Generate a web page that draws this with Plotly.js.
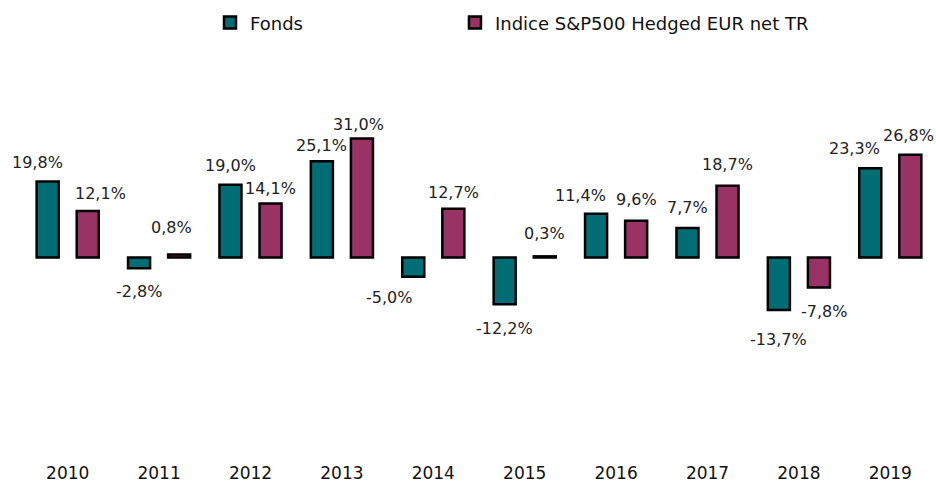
<!DOCTYPE html>
<html>
<head>
<meta charset="utf-8">
<script src="https://cdn.plot.ly/plotly-3.0.1.min.js"></script>
<style>
html,body{margin:0;padding:0;background:#fff;}
#chart{width:936px;height:483px;}
</style>
</head>
<body>
<div id="chart"></div>
<script>
var years = ["2010","2011","2012","2013","2014","2015","2016","2017","2018","2019"];
var fondsName = "Fonds";
var indiceName = "Indice S&P500 Hedged EUR net TR";
var fondsValues = [19.8, -2.8, 19.0, 25.1, -5.0, -12.2, 11.4, 7.7, -13.7, 23.3];
var indiceValues = [12.1, 0.8, 14.1, 31.0, 12.7, 0.3, 9.6, 18.7, -7.8, 26.8];

// label nudges (pixels) relative to bar end, as placed in the reference
var fondsLabelDx = [-10, 0, 0, 0, -24, 0, -16, 0, 0, -16];
var fondsLabelDy = [19, -23, 19, 16, -21, -24, 18, 20, -29, 20];
var indiceLabelDx = [13, -8, 0, -3, 0, 0, 0, 0, 5, -2];
var indiceLabelDy = [18, 27, 15, 14, 16, 23, 21, 21, -24, 19];

var tealColor = "#006C73";
var maroonColor = "#993366";
var fontFam = "DejaVu Sans, Verdana, sans-serif";
var labelFont = {family: fontFam, size: 16, color: "#222"};

function fmt(v){ return v.toFixed(1).replace(".", ",") + "%"; }

var traces = [
  {type: "bar", name: fondsName, x: years, y: fondsValues, legend: "legend",
   marker: {color: tealColor, line: {color: "#000", width: 2.5}}, hoverinfo: "skip"},
  {type: "bar", name: indiceName, x: years, y: indiceValues, legend: "legend2",
   marker: {color: maroonColor, line: {color: "#000", width: 2.5}}, hoverinfo: "skip"}
];

var annotations = [];
[[fondsValues, fondsLabelDx, fondsLabelDy, -20], [indiceValues, indiceLabelDx, indiceLabelDy, 20]].forEach(function(s){
  s[0].forEach(function(v, i){
    annotations.push({
      x: i, y: v, xref: "x", yref: "y",
      text: fmt(v), showarrow: false,
      xshift: s[3] + s[1][i],
      yshift: s[2][i],
      font: labelFont
    });
  });
});

var boundaries = [];
for (var k = 0; k <= years.length; k++) boundaries.push(k - 0.5);

var legendFont = {family: fontFam, size: 18, color: "#111"};

var layout = {
  width: 936, height: 483,
  margin: {l: 22, r: 0, t: 60, b: 28},
  paper_bgcolor: "#fff", plot_bgcolor: "#fff",
  barmode: "group", bargap: 0.123, bargroupgap: 0.45,
  showlegend: true,
  legend: {orientation: "h", x: 0.2057, xanchor: "left", y: 1.094, yanchor: "middle",
           font: legendFont, bgcolor: "rgba(0,0,0,0)"},
  legend2: {orientation: "h", x: 0.4737, xanchor: "left", y: 1.094, yanchor: "middle",
           font: legendFont, bgcolor: "rgba(0,0,0,0)"},
  xaxis: {type: "category", range: [-0.5, years.length - 0.5], autorange: false,
          showline: false, ticks: "", showgrid: false, zeroline: false,
          tickfont: {family: fontFam, size: 17, color: "#111"},
          ticklabelstandoff: 6},
  xaxis2: {overlaying: "x", anchor: "free", position: 0.5, type: "linear",
           range: [-0.5, years.length - 0.5], autorange: false,
           tickmode: "array", tickvals: boundaries,
           ticks: "outside", ticklen: 5, tickcolor: "#888", tickwidth: 1,
           showline: true, linecolor: "#000", linewidth: 1,
           showticklabels: false, showgrid: false, zeroline: false},
  yaxis: {range: [-51.5, 51.5], autorange: false, showticklabels: false, showgrid: false,
          zeroline: false, showline: false, ticks: ""},
  annotations: annotations
};

Plotly.newPlot("chart", traces, layout, {staticPlot: true, displayModeBar: false});
</script>
</body>
</html>
